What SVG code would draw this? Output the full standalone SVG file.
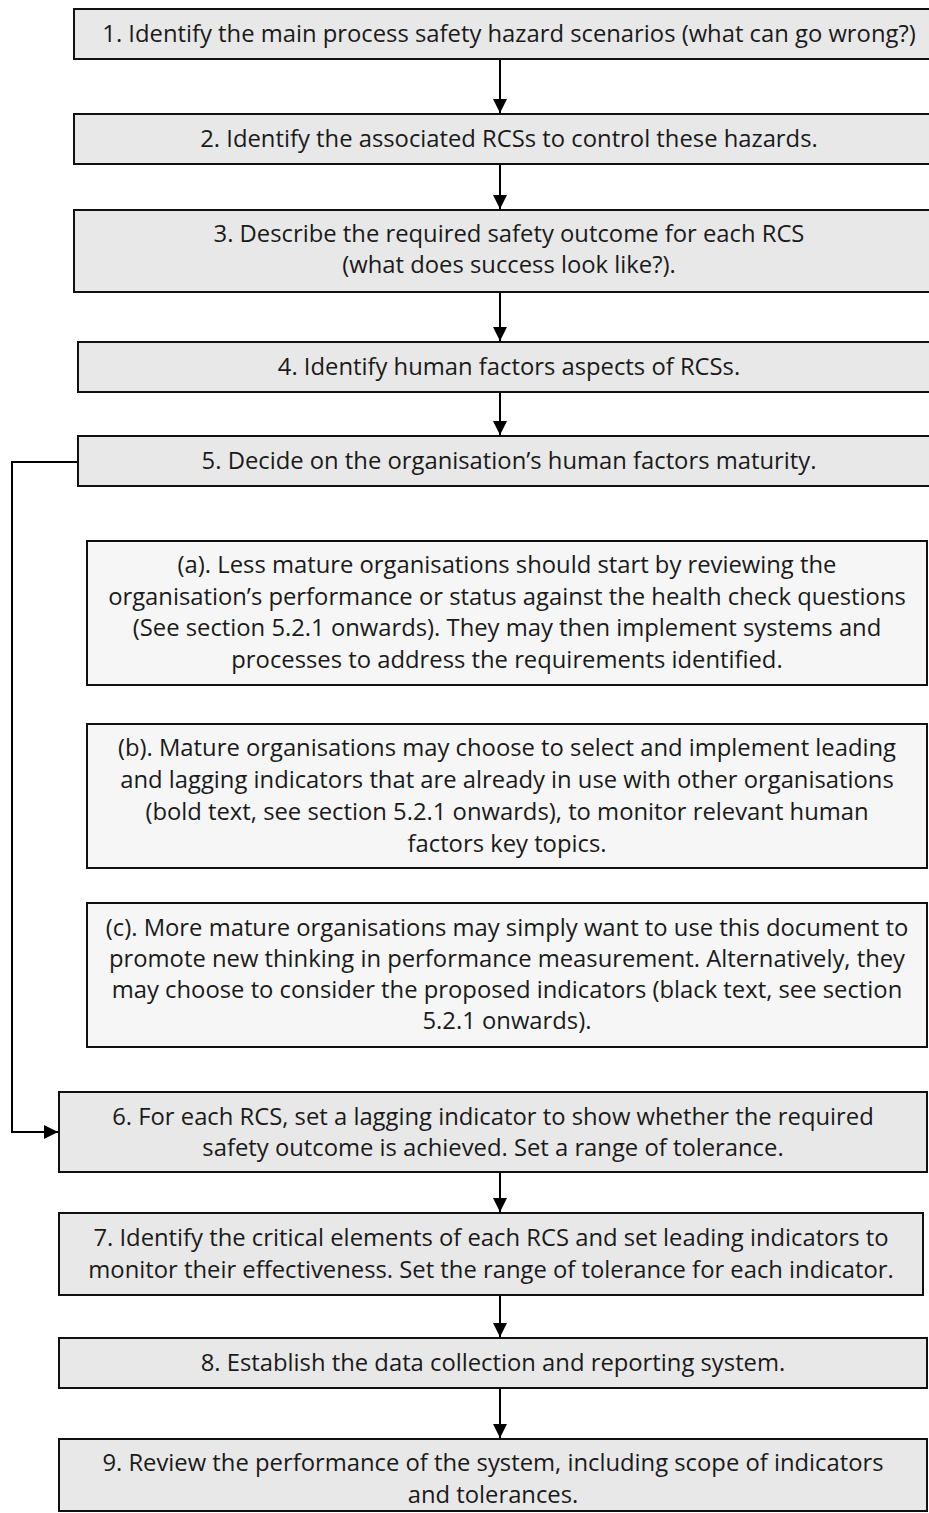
<svg xmlns="http://www.w3.org/2000/svg" width="929" height="1513" viewBox="0 0 929 1513">
  <style>
    .step { fill: #e8e8e8; stroke: #111; stroke-width: 2; }
    .opt { fill: #f6f6f6; stroke: #111; stroke-width: 2; }
    .lbl { font-family: "Open Sans", "Noto Sans", sans-serif; font-size: 23.8px; fill: #1a1a1a; text-anchor: middle; }
    .wire { fill: none; stroke: #000; stroke-width: 2; }
  </style>
  <defs>
    <marker id="head" viewBox="0 0 14 14" refX="14" refY="7" markerWidth="14" markerHeight="14" markerUnits="userSpaceOnUse" orient="auto">
      <path d="M0,0 L14,7 L0,14 Z" fill="#000"/>
    </marker>
  </defs>

  <rect width="929" height="1513" fill="#fff"/>

  <g id="connectors">
    <line class="wire" x1="500" y1="60" x2="500" y2="113" marker-end="url(#head)"/>
    <line class="wire" x1="500" y1="165" x2="500" y2="209" marker-end="url(#head)"/>
    <line class="wire" x1="500" y1="293" x2="500" y2="341" marker-end="url(#head)"/>
    <line class="wire" x1="500" y1="393" x2="500" y2="435" marker-end="url(#head)"/>
    <polyline class="wire" points="77,462 12,462 12,1132 58,1132" marker-end="url(#head)"/>
    <line class="wire" x1="500" y1="1173" x2="500" y2="1212" marker-end="url(#head)"/>
    <line class="wire" x1="500" y1="1296" x2="500" y2="1337" marker-end="url(#head)"/>
    <line class="wire" x1="500" y1="1389" x2="500" y2="1438" marker-end="url(#head)"/>
  </g>

  <g id="step1">
    <rect class="step" x="74" y="9" width="870" height="50"/>
    <text class="lbl" x="509" y="42">1. Identify the main process safety hazard scenarios (what can go wrong?)</text>
  </g>

  <g id="step2">
    <rect class="step" x="74" y="114" width="870" height="50"/>
    <text class="lbl" x="509" y="147">2. Identify the associated RCSs to control these hazards.</text>
  </g>

  <g id="step3">
    <rect class="step" x="74" y="210" width="870" height="82"/>
    <text class="lbl" x="509" y="242">3. Describe the required safety outcome for each RCS</text>
    <text class="lbl" x="509" y="273">(what does success look like?).</text>
  </g>

  <g id="step4">
    <rect class="step" x="78" y="342" width="862" height="50"/>
    <text class="lbl" x="509" y="375">4. Identify human factors aspects of RCSs.</text>
  </g>

  <g id="step5">
    <rect class="step" x="78" y="436" width="862" height="50"/>
    <text class="lbl" x="509" y="469">5. Decide on the organisation’s human factors maturity.</text>
  </g>

  <g id="option-a">
    <rect class="opt" x="87" y="541" width="840" height="144"/>
    <text class="lbl" x="507" y="573">(a). Less mature organisations should start by reviewing the</text>
    <text class="lbl" x="507" y="605">organisation’s performance or status against the health check questions</text>
    <text class="lbl" x="507" y="636">(See section 5.2.1 onwards). They may then implement systems and</text>
    <text class="lbl" x="507" y="668">processes to address the requirements identified.</text>
  </g>

  <g id="option-b">
    <rect class="opt" x="87" y="724" width="840" height="144"/>
    <text class="lbl" x="507" y="756">(b). Mature organisations may choose to select and implement leading</text>
    <text class="lbl" x="507" y="788">and lagging indicators that are already in use with other organisations</text>
    <text class="lbl" x="507" y="820">(bold text, see section 5.2.1 onwards), to monitor relevant human</text>
    <text class="lbl" x="507" y="852">factors key topics.</text>
  </g>

  <g id="option-c">
    <rect class="opt" x="87" y="903" width="840" height="144"/>
    <text class="lbl" x="507" y="936">(c). More mature organisations may simply want to use this document to</text>
    <text class="lbl" x="507" y="967">promote new thinking in performance measurement. Alternatively, they</text>
    <text class="lbl" x="507" y="998">may choose to consider the proposed indicators (black text, see section</text>
    <text class="lbl" x="507" y="1029">5.2.1 onwards).</text>
  </g>

  <g id="step6">
    <rect class="step" x="59" y="1092" width="868" height="80"/>
    <text class="lbl" x="493" y="1125">6. For each RCS, set a lagging indicator to show whether the required</text>
    <text class="lbl" x="493" y="1156">safety outcome is achieved. Set a range of tolerance.</text>
  </g>

  <g id="step7">
    <rect class="step" x="59" y="1213" width="864" height="82"/>
    <text class="lbl" x="491" y="1246">7. Identify the critical elements of each RCS and set leading indicators to</text>
    <text class="lbl" x="491" y="1278">monitor their effectiveness. Set the range of tolerance for each indicator.</text>
  </g>

  <g id="step8">
    <rect class="step" x="59" y="1338" width="868" height="50"/>
    <text class="lbl" x="493" y="1371">8. Establish the data collection and reporting system.</text>
  </g>

  <g id="step9">
    <rect class="step" x="59" y="1439" width="868" height="72"/>
    <text class="lbl" x="493" y="1471">9. Review the performance of the system, including scope of indicators</text>
    <text class="lbl" x="493" y="1503">and tolerances.</text>
  </g>
</svg>
